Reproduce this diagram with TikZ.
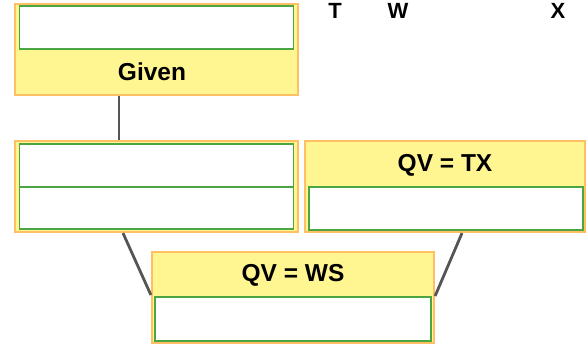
\documentclass[tikz,border=0pt]{standalone}
\usepackage{fontspec}
\setmainfont{Liberation Sans}
\definecolor{frameorange}{RGB}{255,192,100}
\definecolor{panelyellow}{RGB}{255,245,145}
\definecolor{slotgreen}{RGB}{75,165,65}
\definecolor{linkgray}{RGB}{85,85,85}
\tikzset{
  panel/.style={draw=frameorange, fill=panelyellow, line width=2.2pt, inner sep=0pt},
  slot/.style={draw=slotgreen, fill=white, line width=1.4pt, inner sep=0pt},
  caption/.style={font=\bfseries\fontsize{24.5}{24.5}\selectfont, inner sep=0pt, anchor=base},
  letter/.style={font=\bfseries\fontsize{22}{22}\selectfont, inner sep=0pt, anchor=base},
  link/.style={draw=linkgray, line width=2.8pt}
}
\begin{document}
\begin{tikzpicture}[x=1pt,y=-1pt]
\useasboundingbox (0,0) rectangle (586,344);

% top-left panel
\node[panel, minimum width=283pt, minimum height=91pt] (pa) at (156.5,49.5) {};
\node[slot, minimum width=274pt, minimum height=43pt] (pa1) at (156.5,27.5) {};
\node[caption] (ga) at (152,81) {Given};

% middle-left panel
\node[panel, minimum width=283pt, minimum height=91pt] (pb) at (156.5,186.5) {};
\node[slot, minimum width=274pt, minimum height=43pt] (pb1) at (156.5,165.5) {};
\node[slot, minimum width=274pt, minimum height=42pt] (pb2) at (156.5,208) {};

% middle-right panel
\node[panel, minimum width=280pt, minimum height=91pt] (pc) at (445,186.5) {};
\node[slot, minimum width=274pt, minimum height=43pt] (pc1) at (446,208.5) {};
\node[caption] (gc) at (445,172) {QV = TX};

% bottom panel
\node[panel, minimum width=282pt, minimum height=91pt] (pd) at (293,297.5) {};
\node[slot, minimum width=276pt, minimum height=44pt] (pd1) at (293,319) {};
\node[caption] (gd) at (293,282) {QV = WS};

% column letters
\node[letter] (lt) at (335,19) {T};
\node[letter] (lw) at (398,19) {W};
\node[letter] (lx) at (558,19) {X};

% connectors
\coordinate (ja) at (pa.south -| 119,0);
\coordinate (jb) at (pb.north -| 119,0);
\draw[link] (ja) -- (jb);
\coordinate (kb) at (pb.south -| 123,0);
\coordinate (kd) at (pd.west |- 0,295);
\draw[link] (kb) -- (kd);
\coordinate (kc) at (pc.south -| 462,0);
\coordinate (ke) at (pd.east |- 0,296);
\draw[link] (kc) -- (ke);
\end{tikzpicture}
\end{document}
